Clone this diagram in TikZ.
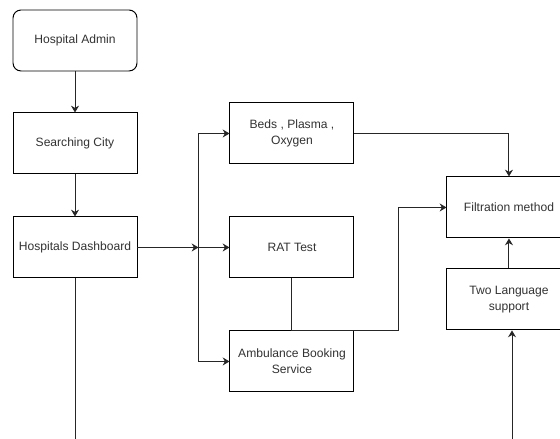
\documentclass[tikz,border=0pt]{standalone}
\usepackage{fontspec}
\setmainfont{Liberation Sans}
\usepackage{tikz}
\usetikzlibrary{arrows.meta, positioning}
\tikzset{
    block/.style={
        rectangle,
        draw=black,
        line width=0.7pt,
        minimum width=3.1cm,
        minimum height=1.525cm,
        fill=white,
        align=center,
        text=black!80,
        font=\fontsize{8.6}{11.4}\selectfont
    },
    startblock/.style={
        block,
        rounded corners=0.2cm
    },
    wire/.style={
        draw=black!85,
        line width=0.7pt,
        -{Stealth[length=1.7mm, width=2mm]}
    },
    plainwire/.style={
        draw=black!85,
        line width=0.7pt
    }
}

\begin{document}
\begin{tikzpicture}[node distance=1.025cm and 2.3cm]
\clip (0,0) rectangle (14,-10.975);

% Admin column
\node[startblock] (admin) at (1.875,-1.0125) {Hospital Admin};
\node[block, below=of admin] (city) {Searching City};
\node[block, below=1.05cm of city] (dash) {Hospitals Dashboard};

% Services
\node[block, right=of dash] (rat) {RAT Test};
\node[block, above=1.3cm of rat] (beds) {Beds , Plasma ,\\Oxygen};
\node[block, below=1.3cm of rat] (amb) {Ambulance Booking\\Service};

% Filtering
\node[block, right=of rat, yshift=1cm] (filt) {Filtration method};
\node[block, below=0.75cm of filt] (two) {Two Language\\support};

% Bend points
\coordinate[right=1.525cm of dash] (fork);
\coordinate[right=2.675cm of amb.north] (join);
\coordinate (feed) at (12.8,-10.975);
\coordinate (exit) at (dash.south |- feed);

\draw[wire] (admin) -- (city);
\draw[wire] (city) -- (dash);
\draw[wire] (dash) -- (fork);
\draw[wire] (fork) |- (beds);
\draw[wire] (fork) -- (rat);
\draw[wire] (fork) |- (amb);
\draw[wire] (beds) -| (filt);
\draw[wire] (rat) -- (amb.north) -- (join) |- (filt);
\draw[wire] (two) -- (filt);
\draw[wire] (feed) -- (feed |- two.south);
\draw[plainwire] (dash) -- (exit);

\end{tikzpicture}
\end{document}
